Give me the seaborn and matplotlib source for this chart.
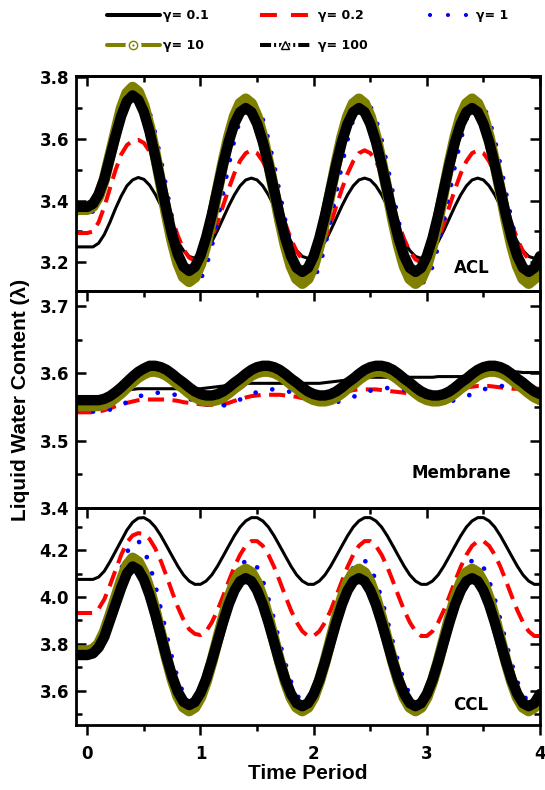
import numpy as np
import pandas as pd
import matplotlib
matplotlib.use("Agg")
import matplotlib.pyplot as plt
import seaborn as sns
from matplotlib.ticker import MultipleLocator, FormatStrFormatter
from matplotlib.lines import Line2D
from matplotlib.legend_handler import HandlerTuple

# ---------------- data ----------------
time = np.round(np.arange(83) * 0.05 - 0.1, 2)   # -0.1 ... 4.0
gammas = ["0.1", "0.2", "1", "10", "100"]
panels = ["ACL", "Membrane", "CCL"]

acl_g01 = [3.250, 3.250, 3.250, 3.250, 3.262, 3.290, 3.330, 3.375, 3.415, 3.448, 3.467, 3.475,
           3.469, 3.450, 3.421, 3.384, 3.344, 3.304, 3.267, 3.238, 3.219, 3.213,
           3.219, 3.238, 3.267, 3.303, 3.343, 3.383, 3.419, 3.448, 3.467, 3.473,
           3.467, 3.448, 3.419, 3.383, 3.343, 3.303, 3.267, 3.238, 3.219, 3.213,
           3.219, 3.238, 3.267, 3.303, 3.343, 3.383, 3.419, 3.448, 3.467, 3.473,
           3.467, 3.448, 3.419, 3.383, 3.343, 3.303, 3.267, 3.238, 3.219, 3.213,
           3.219, 3.238, 3.267, 3.303, 3.343, 3.383, 3.419, 3.448, 3.467, 3.473,
           3.467, 3.448, 3.419, 3.383, 3.343, 3.303, 3.267, 3.238, 3.219, 3.213, 3.219]
acl_g02 = [3.295, 3.295, 3.295, 3.300, 3.330, 3.380, 3.440, 3.500, 3.550, 3.580, 3.594, 3.597,
           3.587, 3.560, 3.516, 3.462, 3.401, 3.340, 3.286, 3.242, 3.215, 3.205,
           3.214, 3.239, 3.279, 3.329, 3.384, 3.439, 3.489, 3.529, 3.554, 3.563,
           3.554, 3.528, 3.488, 3.438, 3.382, 3.325, 3.275, 3.235, 3.209, 3.200,
           3.209, 3.235, 3.275, 3.325, 3.382, 3.438, 3.488, 3.528, 3.554, 3.563,
           3.554, 3.528, 3.488, 3.438, 3.382, 3.325, 3.275, 3.235, 3.209, 3.200,
           3.209, 3.235, 3.275, 3.325, 3.382, 3.438, 3.488, 3.528, 3.554, 3.563,
           3.554, 3.528, 3.488, 3.438, 3.382, 3.325, 3.275, 3.235, 3.209, 3.200, 3.209]
acl_g1 = [3.355, 3.355, 3.357, 3.365, 3.390, 3.440, 3.510, 3.585, 3.655, 3.705, 3.735, 3.745,
          3.730, 3.686, 3.618, 3.533, 3.438, 3.342, 3.257, 3.189, 3.145, 3.130,
          3.144, 3.186, 3.252, 3.334, 3.425, 3.516, 3.598, 3.664, 3.706, 3.720,
          3.706, 3.664, 3.598, 3.516, 3.425, 3.334, 3.252, 3.186, 3.144, 3.130,
          3.144, 3.186, 3.252, 3.334, 3.425, 3.516, 3.598, 3.664, 3.706, 3.720,
          3.706, 3.664, 3.598, 3.516, 3.425, 3.334, 3.252, 3.186, 3.144, 3.130,
          3.144, 3.186, 3.252, 3.334, 3.425, 3.516, 3.598, 3.664, 3.706, 3.720,
          3.706, 3.664, 3.598, 3.516, 3.425, 3.334, 3.252, 3.186, 3.144, 3.130, 3.144]
acl_g10 = [3.372, 3.372, 3.372, 3.382, 3.414, 3.468, 3.545, 3.622, 3.698, 3.748, 3.767,
           3.752, 3.707, 3.637, 3.550, 3.453, 3.355, 3.268, 3.198, 3.153, 3.138,
           3.152, 3.194, 3.260, 3.342, 3.434, 3.525, 3.607, 3.673, 3.715, 3.729,
           3.714, 3.672, 3.606, 3.523, 3.431, 3.338, 3.255, 3.189, 3.147, 3.132,
           3.147, 3.189, 3.255, 3.338, 3.431, 3.523, 3.606, 3.672, 3.714, 3.729,
           3.714, 3.672, 3.606, 3.523, 3.431, 3.338, 3.255, 3.189, 3.147, 3.132,
           3.147, 3.189, 3.255, 3.338, 3.431, 3.523, 3.606, 3.672, 3.714, 3.729,
           3.714, 3.672, 3.606, 3.523, 3.431, 3.338, 3.255, 3.189, 3.147, 3.132, 3.147, 3.189]
acl_g100 = [3.380, 3.380, 3.380, 3.390, 3.420, 3.470, 3.540, 3.610, 3.675, 3.722, 3.741,
            3.727, 3.687, 3.624, 3.544, 3.457, 3.369, 3.289, 3.226, 3.186, 3.172,
            3.185, 3.222, 3.281, 3.354, 3.436, 3.518, 3.591, 3.650, 3.687, 3.700,
            3.687, 3.649, 3.591, 3.517, 3.435, 3.352, 3.278, 3.220, 3.182, 3.169,
            3.182, 3.220, 3.278, 3.352, 3.435, 3.517, 3.591, 3.649, 3.687, 3.700,
            3.687, 3.649, 3.591, 3.517, 3.435, 3.352, 3.278, 3.220, 3.182, 3.169,
            3.182, 3.220, 3.278, 3.352, 3.435, 3.517, 3.591, 3.649, 3.687, 3.700,
            3.687, 3.649, 3.591, 3.517, 3.435, 3.352, 3.278, 3.220, 3.182, 3.169, 3.182, 3.220]

mem_g01 = [3.563, 3.563, 3.563, 3.563, 3.563, 3.565, 3.568, 3.571, 3.573, 3.575,
           3.576, 3.577, 3.577, 3.577, 3.577, 3.577, 3.577, 3.577, 3.577, 3.577,
           3.577, 3.577, 3.577, 3.578, 3.579, 3.580, 3.581, 3.582, 3.583, 3.584,
           3.585, 3.585, 3.585, 3.585, 3.585, 3.585, 3.585, 3.585, 3.585, 3.585,
           3.585, 3.585, 3.585, 3.585, 3.586, 3.587, 3.588, 3.589, 3.590, 3.591,
           3.592, 3.593, 3.594, 3.594, 3.594, 3.594, 3.594, 3.594, 3.594, 3.594,
           3.594, 3.594, 3.594, 3.594, 3.595, 3.595, 3.595, 3.595, 3.595, 3.596,
           3.598, 3.600, 3.601, 3.602, 3.602, 3.602, 3.602, 3.602, 3.602, 3.601,
           3.601, 3.601, 3.601]
mem_g02 = [3.542, 3.542, 3.542, 3.542, 3.543, 3.545, 3.548, 3.551, 3.554, 3.556,
           3.558, 3.560, 3.561, 3.561, 3.561, 3.561, 3.561, 3.560, 3.559, 3.557,
           3.556, 3.555, 3.554, 3.553, 3.553, 3.553, 3.554, 3.556, 3.559, 3.562,
           3.564, 3.566, 3.567, 3.568, 3.568, 3.568, 3.568, 3.567, 3.566, 3.565,
           3.563, 3.562, 3.562, 3.562, 3.563, 3.565, 3.568, 3.571, 3.573, 3.575,
           3.576, 3.576, 3.576, 3.576, 3.575, 3.574, 3.573, 3.572, 3.571, 3.570,
           3.569, 3.568, 3.567, 3.567, 3.568, 3.570, 3.572, 3.575, 3.577, 3.579,
           3.580, 3.581, 3.581, 3.581, 3.580, 3.579, 3.578, 3.577, 3.577, 3.577,
           3.577, 3.577, 3.577]
mem_g1 = [3.543, 3.543, 3.543, 3.543, 3.543, 3.544, 3.546, 3.549, 3.553, 3.557,
          3.561, 3.565, 3.568, 3.570, 3.571, 3.571, 3.570, 3.569, 3.567, 3.565,
          3.562, 3.559, 3.556, 3.554, 3.552, 3.552, 3.552, 3.554, 3.557, 3.561,
          3.565, 3.569, 3.572, 3.574, 3.576, 3.576, 3.575, 3.574, 3.572, 3.569,
          3.566, 3.562, 3.559, 3.557, 3.556, 3.556, 3.557, 3.559, 3.562, 3.565,
          3.568, 3.571, 3.574, 3.576, 3.578, 3.578, 3.578, 3.577, 3.575, 3.573,
          3.569, 3.566, 3.563, 3.560, 3.558, 3.558, 3.558, 3.560, 3.563, 3.566,
          3.569, 3.573, 3.576, 3.578, 3.580, 3.581, 3.581, 3.580, 3.578, 3.575,
          3.571, 3.567, 3.564]
mem_g10 = [3.552, 3.552, 3.552, 3.552, 3.552, 3.554, 3.558, 3.564, 3.571, 3.579, 3.587, 3.594, 3.599, 3.603,
           3.603, 3.601, 3.597, 3.591, 3.584, 3.578, 3.571, 3.565, 3.561, 3.559,
           3.559, 3.561, 3.565, 3.571, 3.578, 3.584, 3.591, 3.597, 3.601, 3.603,
           3.603, 3.601, 3.597, 3.591, 3.584, 3.578, 3.571, 3.565, 3.561, 3.559,
           3.559, 3.561, 3.565, 3.571, 3.578, 3.584, 3.591, 3.597, 3.601, 3.603,
           3.603, 3.601, 3.597, 3.591, 3.584, 3.578, 3.571, 3.565, 3.561, 3.559,
           3.559, 3.561, 3.565, 3.571, 3.578, 3.584, 3.591, 3.597, 3.601, 3.603,
           3.603, 3.601, 3.597, 3.591, 3.584, 3.578, 3.571, 3.565, 3.561]
mem_g100 = [3.560, 3.560, 3.560, 3.560, 3.560, 3.562, 3.566, 3.572, 3.579, 3.587, 3.595, 3.602, 3.607, 3.611,
            3.611, 3.609, 3.605, 3.599, 3.592, 3.586, 3.579, 3.573, 3.569, 3.567,
            3.567, 3.569, 3.573, 3.579, 3.586, 3.592, 3.599, 3.605, 3.609, 3.611,
            3.611, 3.609, 3.605, 3.599, 3.592, 3.586, 3.579, 3.573, 3.569, 3.567,
            3.567, 3.569, 3.573, 3.579, 3.586, 3.592, 3.599, 3.605, 3.609, 3.611,
            3.611, 3.609, 3.605, 3.599, 3.592, 3.586, 3.579, 3.573, 3.569, 3.567,
            3.567, 3.569, 3.573, 3.579, 3.586, 3.592, 3.599, 3.605, 3.609, 3.611,
            3.611, 3.609, 3.605, 3.599, 3.592, 3.586, 3.579, 3.573, 3.569]

ccl_g01 = [4.075, 4.075, 4.075, 4.075, 4.085, 4.110, 4.150, 4.195, 4.240, 4.285, 4.318, 4.336,
           4.338, 4.324, 4.298, 4.261, 4.218, 4.174, 4.131, 4.094, 4.068, 4.054,
           4.054, 4.068, 4.094, 4.131, 4.174, 4.218, 4.261, 4.298, 4.324, 4.338,
           4.338, 4.324, 4.298, 4.261, 4.218, 4.174, 4.131, 4.094, 4.068, 4.054,
           4.054, 4.068, 4.094, 4.131, 4.174, 4.218, 4.261, 4.298, 4.324, 4.338,
           4.338, 4.324, 4.298, 4.261, 4.218, 4.174, 4.131, 4.094, 4.068, 4.054,
           4.054, 4.068, 4.094, 4.131, 4.174, 4.218, 4.261, 4.298, 4.324, 4.338,
           4.338, 4.324, 4.298, 4.261, 4.218, 4.174, 4.131, 4.094, 4.068, 4.054, 4.054]
ccl_g02 = [3.932, 3.932, 3.932, 3.932, 3.950, 3.990, 4.050, 4.115, 4.180, 4.232, 4.262, 4.272, 4.268,
           4.247, 4.207, 4.153, 4.089, 4.021, 3.957, 3.903, 3.863, 3.843, 3.838,
           3.854, 3.892, 3.943, 4.004, 4.068, 4.129, 4.180, 4.218, 4.238,
           4.238, 4.218, 4.180, 4.129, 4.068, 4.004, 3.943, 3.892, 3.854, 3.834,
           3.834, 3.854, 3.892, 3.943, 4.004, 4.068, 4.129, 4.180, 4.218, 4.238,
           4.238, 4.218, 4.180, 4.129, 4.068, 4.004, 3.943, 3.892, 3.854, 3.834,
           3.834, 3.854, 3.892, 3.943, 4.004, 4.068, 4.129, 4.180, 4.218, 4.238,
           4.238, 4.218, 4.180, 4.129, 4.068, 4.004, 3.943, 3.892, 3.854, 3.834, 3.834]
ccl_g1 = [3.795, 3.795, 3.795, 3.795, 3.810, 3.860, 3.940, 4.030, 4.120, 4.190, 4.232, 4.240,
          4.202, 4.139, 4.052, 3.949, 3.841, 3.738, 3.651, 3.588, 3.554, 3.552,
          3.583, 3.639, 3.717, 3.807, 3.903, 3.993, 4.071, 4.127, 4.156,
          4.156, 4.127, 4.071, 3.993, 3.903, 3.807, 3.717, 3.639, 3.583, 3.554,
          3.554, 3.583, 3.639, 3.717, 3.807, 3.903, 3.993, 4.071, 4.127, 4.156,
          4.156, 4.127, 4.071, 3.993, 3.903, 3.807, 3.717, 3.639, 3.583, 3.554,
          3.554, 3.583, 3.639, 3.717, 3.807, 3.903, 3.993, 4.071, 4.127, 4.156,
          4.156, 4.127, 4.071, 3.993, 3.903, 3.807, 3.717, 3.639, 3.583, 3.554, 3.554, 3.583]
ccl_g10 = [3.770, 3.770, 3.770, 3.776, 3.800, 3.850, 3.920, 3.995, 4.070, 4.135, 4.165,
           4.149, 4.103, 4.031, 3.941, 3.841, 3.740, 3.650, 3.578, 3.532, 3.516,
           3.531, 3.573, 3.640, 3.724, 3.817, 3.910, 3.994, 4.061, 4.103, 4.118,
           4.103, 4.061, 3.994, 3.910, 3.817, 3.724, 3.640, 3.573, 3.531, 3.516,
           3.531, 3.573, 3.640, 3.724, 3.817, 3.910, 3.994, 4.061, 4.103, 4.118,
           4.103, 4.061, 3.994, 3.910, 3.817, 3.724, 3.640, 3.573, 3.531, 3.516,
           3.531, 3.573, 3.640, 3.724, 3.817, 3.910, 3.994, 4.061, 4.103, 4.118,
           4.103, 4.061, 3.994, 3.910, 3.817, 3.724, 3.640, 3.573, 3.531, 3.516, 3.531, 3.573]
ccl_g100 = [3.753, 3.753, 3.753, 3.760, 3.785, 3.830, 3.900, 3.970, 4.040, 4.100, 4.130,
            4.116, 4.074, 4.008, 3.926, 3.835, 3.744, 3.662, 3.596, 3.554, 3.540,
            3.553, 3.592, 3.651, 3.727, 3.810, 3.893, 3.969, 4.028, 4.067, 4.080,
            4.067, 4.028, 3.968, 3.892, 3.808, 3.723, 3.647, 3.587, 3.548, 3.535,
            3.548, 3.587, 3.647, 3.723, 3.808, 3.892, 3.968, 4.028, 4.067, 4.080,
            4.067, 4.028, 3.968, 3.892, 3.808, 3.723, 3.647, 3.587, 3.548, 3.535,
            3.548, 3.587, 3.647, 3.723, 3.808, 3.892, 3.968, 4.028, 4.067, 4.080,
            4.067, 4.028, 3.968, 3.892, 3.808, 3.723, 3.647, 3.587, 3.548, 3.535, 3.548, 3.587]

series = {
    "ACL": [acl_g01, acl_g02, acl_g1, acl_g10, acl_g100],
    "Membrane": [mem_g01, mem_g02, mem_g1, mem_g10, mem_g100],
    "CCL": [ccl_g01, ccl_g02, ccl_g1, ccl_g10, ccl_g100],
}
y_limits = {"ACL": (3.107, 3.804), "Membrane": (3.4, 3.722), "CCL": (3.455, 4.379)}
y_major = {"ACL": 0.2, "Membrane": 0.1, "CCL": 0.2}

rows = []
for p in panels:
    for g, vals in zip(gammas, series[p]):
        assert len(vals) == len(time), (p, g, len(vals))
        for t, v in zip(time, vals):
            rows.append((p, g, t, v))
df = pd.DataFrame(rows, columns=["panel", "gamma", "time", "value"])

# ---------------- style ----------------
sns.set_theme(style="ticks", rc={
    "axes.edgecolor": "black", "xtick.color": "black", "ytick.color": "black",
    "text.color": "black", "axes.labelcolor": "black", "axes.linewidth": 2.0,
    "font.weight": "bold", "axes.labelweight": "bold",
})
plt.rcParams["font.family"] = ["DejaVu Sans"]

OLIVE = "#808000"
line_styles = {
    "0.1": dict(color="black", linewidth=2.2, linestyle="-"),
    "0.2": dict(color="#FF0000", linewidth=2.9, linestyle=(0, (4.0, 2.1))),
    "1": dict(color="#0000FF", linewidth=3.4, linestyle=(0, (0.01, 3.6)), dash_capstyle="round"),
    "10": dict(color=OLIVE, linewidth=8.2, linestyle="-"),
    "100": dict(color="black", linewidth=7.5, linestyle="-"),
}

W, H = 545, 790
fig = plt.figure(figsize=(W / 100, H / 100), dpi=100)


def rect(x0, y0, x1, y1):
    return [x0 / W, 1 - y1 / H, (x1 - x0) / W, (y1 - y0) / H]


axes = [fig.add_axes(rect(76, 76, 540, 291)),
        fig.add_axes(rect(76, 291, 540, 508)),
        fig.add_axes(rect(76, 508, 540, 725))]

label_pos = {"ACL": (0.853, 0.107), "Membrane": (0.830, 0.161), "CCL": (0.851, 0.092)}

for i, (ax, p) in enumerate(zip(axes, panels)):
    sub = df[df["panel"] == p]
    for g in gammas:
        d = sub[sub["gamma"] == g]
        sns.lineplot(data=d, x="time", y="value", ax=ax, estimator=None, sort=False,
                     errorbar=None, legend=False, **line_styles[g])
    ax.set_xlim(-0.1, 4.0)
    ax.set_ylim(*y_limits[p])
    ax.set_xlabel("")
    ax.set_ylabel("")
    for s in ax.spines.values():
        s.set_visible(True)
        s.set_linewidth(2.0)
    ax.yaxis.set_major_locator(MultipleLocator(y_major[p]))
    ax.yaxis.set_minor_locator(MultipleLocator(y_major[p] / 2))
    ax.yaxis.set_major_formatter(FormatStrFormatter("%.1f"))
    ax.tick_params(axis="y", which="both", direction="in", left=True, right=True,
                   width=1.8, labelsize=12, pad=5)
    ax.tick_params(axis="y", which="major", length=7.5)
    ax.tick_params(axis="y", which="minor", length=4)
    ax.xaxis.set_major_locator(MultipleLocator(1))
    ax.xaxis.set_minor_locator(MultipleLocator(0.5))
    if i == 2:
        ax.xaxis.set_major_formatter(FormatStrFormatter("%d"))
        ax.tick_params(axis="x", which="both", direction="out", bottom=True, top=False,
                       width=1.8, labelsize=12, pad=7)
        ax.tick_params(axis="x", which="major", length=7.5)
        ax.tick_params(axis="x", which="minor", length=4.5)
    else:
        ax.tick_params(axis="x", which="both", bottom=False, top=False, labelbottom=False)
    sec = ax.secondary_xaxis("top")
    sec.xaxis.set_major_locator(MultipleLocator(1))
    sec.xaxis.set_minor_locator(MultipleLocator(0.5))
    sec.tick_params(axis="x", which="both", direction="in", labeltop=False, width=1.8)
    sec.tick_params(axis="x", which="major", length=7.5)
    sec.tick_params(axis="x", which="minor", length=4)
    sec.spines["top"].set_linewidth(2.0)
    lx, ly = label_pos[p]
    ax.text(lx, ly, p, transform=ax.transAxes, ha="center", va="center",
            fontsize=12, fontweight="bold")

axes[1].set_ylabel("Liquid Water Content (λ)", fontsize=15, fontweight="bold",
                   family=["Liberation Sans", "DejaVu Sans"])
axes[1].yaxis.set_label_coords(-0.099, 0.5)
axes[2].set_xlabel("Time Period", fontsize=15, fontweight="bold",
                   family=["Liberation Sans", "DejaVu Sans"])
axes[2].xaxis.set_label_coords(0.5, -0.18)

# ---------------- legend ----------------
h01 = Line2D([], [], color="black", lw=2.9)
h02 = Line2D([], [], color="#FF0000", lw=2.9, ls=(0, (4.2, 3.5)))
h1 = Line2D([], [], color="#0000FF", lw=3.0, ls=(0, (0.01, 4.3)), dash_capstyle="round")
h10 = (Line2D([], [], color=OLIVE, lw=2.9, marker="o", ms=11.5, mfc="white", mec="white", mew=0),
       Line2D([], [], ls="none", marker="o", ms=6, mfc="white", mec=OLIVE, mew=1.0),
       Line2D([], [], ls="none", marker="o", ms=1.6, mfc=OLIVE, mec=OLIVE, mew=0))
h100 = (Line2D([], [], color="black", lw=2.9, ls=(0, (2.75, 0.75, 0.5, 0.75)),
               marker="^", ms=12, mfc="white", mec="white", mew=0),
        Line2D([], [], ls="none", marker="^", ms=6, mfc="white", mec="black", mew=1.0))

leg_common = dict(loc="upper left", bbox_transform=fig.transFigure, frameon=False,
                  borderpad=0, borderaxespad=0, labelspacing=1.31, numpoints=1,
                  handler_map={tuple: HandlerTuple(ndivide=1, pad=0)},
                  prop={"weight": "bold", "size": 9})
fig.legend([h01, h10], ["γ= 0.1", "γ= 10"], bbox_to_anchor=(107 / W, 1 - 9.5 / H),
           handlelength=4.2, handletextpad=0.3, **leg_common)
fig.legend([h02, h100], ["γ= 0.2", "γ= 100"], bbox_to_anchor=(260 / W, 1 - 9.5 / H),
           handlelength=4.0, handletextpad=0.6, **leg_common)
fig.legend([h1], ["γ= 1"], bbox_to_anchor=(430 / W, 1 - 9.5 / H),
           handlelength=3.3, handletextpad=0.4, **leg_common)

fig.savefig("out.png", dpi=100)
